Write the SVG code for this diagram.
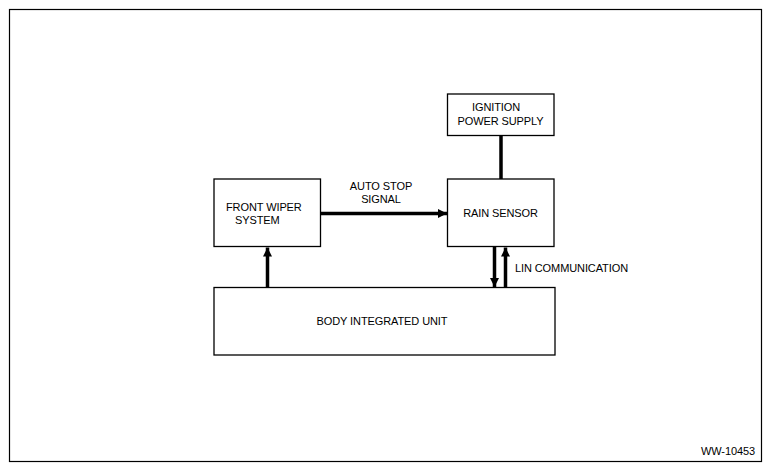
<svg xmlns="http://www.w3.org/2000/svg" width="770" height="471" viewBox="0 0 770 471">
<defs>
<style>
.box{fill:#fff;stroke:#000;stroke-width:1.3}
.t{font-family:"Liberation Sans",Arial,sans-serif;font-size:11px;fill:#000;letter-spacing:-0.1px}
.c{stroke:#000;stroke-width:3.5;fill:none}
</style>
<marker id="ah" viewBox="0 0 9 9" refX="9" refY="4.5" markerWidth="9" markerHeight="9" markerUnits="userSpaceOnUse" orient="auto">
<path d="M0,0 L9,4.5 L0,9 Z" fill="#000"/>
</marker>
</defs>
<rect x="0" y="0" width="770" height="471" fill="#fff"/>
<rect x="9.5" y="9.5" width="752" height="452" fill="none" stroke="#000" stroke-width="1.2"/>
<g id="connectors">
<line class="c" x1="501" y1="135.5" x2="501" y2="179"/>
<line class="c" x1="320.5" y1="213.5" x2="447" y2="213.5" marker-end="url(#ah)"/>
<line class="c" x1="267.5" y1="287" x2="267.5" y2="247.5" marker-end="url(#ah)"/>
<line class="c" x1="494.5" y1="247" x2="494.5" y2="287" marker-end="url(#ah)"/>
<line class="c" x1="505.5" y1="287" x2="505.5" y2="247.5" marker-end="url(#ah)"/>
<text class="t" x="381" y="190" text-anchor="middle">AUTO STOP</text>
<text class="t" x="381" y="203" text-anchor="middle">SIGNAL</text>
<text class="t" x="515" y="272">LIN COMMUNICATION</text>
</g>
<g id="ignition">
<rect class="box" x="447.5" y="94" width="106.5" height="41.5"/>
<text class="t" x="472" y="111">IGNITION</text>
<text class="t" x="500.5" y="125" text-anchor="middle">POWER SUPPLY</text>
</g>
<g id="rain">
<rect class="box" x="447.5" y="179" width="106.5" height="67.5"/>
<text class="t" x="500.5" y="217" text-anchor="middle">RAIN SENSOR</text>
</g>
<g id="wiper">
<rect class="box" x="214" y="179" width="106.5" height="67.5"/>
<text class="t" x="226" y="211">FRONT WIPER</text>
<text class="t" x="235" y="224">SYSTEM</text>
</g>
<g id="biu">
<rect class="box" x="214" y="287.5" width="341" height="67.5"/>
<text class="t" x="382" y="325" text-anchor="middle">BODY INTEGRATED UNIT</text>
</g>
<text class="t" x="755" y="455" text-anchor="end">WW-10453</text>
</svg>
